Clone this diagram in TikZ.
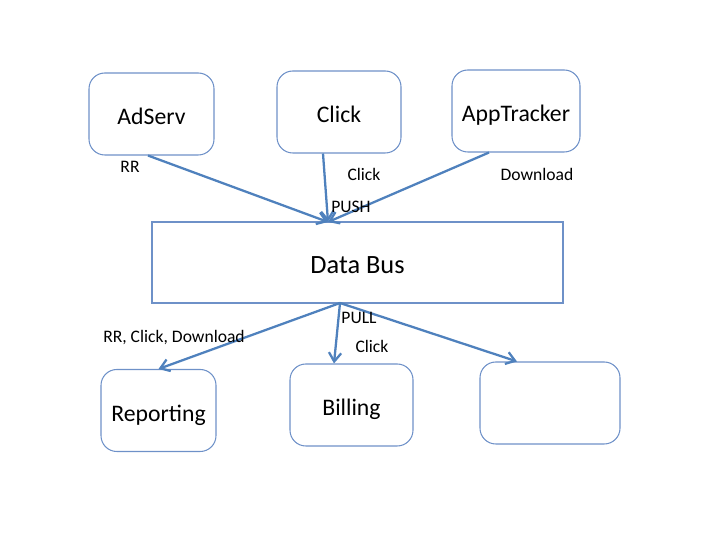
\documentclass[tikz,border=0pt]{standalone}
\usepackage{fontspec}
\setmainfont{Carlito}
\usetikzlibrary{arrows.meta}
\definecolor{boxblue}{RGB}{110,145,200}
\definecolor{arrowblue}{RGB}{79,129,189}
\tikzset{
  svc/.style={draw=boxblue,line width=.6pt,rounded corners=9pt,minimum height=1.64cm,text height=2.6ex,text depth=0pt,font=\fontsize{13.5}{15}\selectfont},
  bus/.style={draw=boxblue,line width=.6pt,minimum width=8.22cm,minimum height=1.62cm,text height=2.7ex,text depth=0pt,font=\fontsize{15}{17}\selectfont},
  flow/.style={draw=arrowblue,line width=1.3pt,-{Straight Barb[length=5pt,width=7pt]}},
  lbl/.style={font=\fontsize{10}{12}\selectfont}
}
\begin{document}
\begin{tikzpicture}
  \useasboundingbox (0,0) rectangle (14.4,10.8);
  % producers
  \node[svc,minimum width=2.5cm]  (AS) at (3.03,8.52) {AdServ};
  \node[svc,minimum width=2.48cm] (CK) at (6.78,8.56) {Click};
  \node[svc,minimum width=2.56cm] (AT) at (10.32,8.58) {AppTracker};
  \node[bus] (DB) at (7.15,5.55) {Data Bus};
  % consumers
  \node[svc,minimum width=2.3cm]  (RP) at (3.17,2.59) {Reporting};
  \node[svc,minimum width=2.46cm] (BL) at (7.03,2.70) {Billing};
  \node[svc,minimum width=2.8cm]  (EX) at (11.0,2.74) {};
  \coordinate (push) at (6.56,6.36);
  \coordinate (pull) at (6.8,4.74);
  \draw[flow] ([xshift=-2pt]AS.south) -- (push);
  \draw[flow] ([xshift=-0.32cm]CK.south) -- (push);
  \draw[flow] ([xshift=-0.54cm]AT.south) -- (push);
  \draw[flow] (pull) -- (RP.north);
  \draw[flow] (pull) -- ([xshift=-0.35cm]BL.north);
  \draw[flow] (pull) -- ([xshift=-0.66cm]EX.north);
  \node[lbl] (rr)   at (2.6,7.46)   {RR};
  \node[lbl] (ckl)  at (7.28,7.32)  {Click};
  \node[lbl] (dl)   at (10.74,7.32) {Download};
  \node[lbl] (psh)  at (7.02,6.66)  {PUSH};
  \node[lbl] (pll)  at (7.18,4.44)  {PULL};
  \node[lbl] (all)  at (3.48,4.04)  {RR, Click, Download};
  \node[lbl] (ckb)  at (7.44,3.88)  {Click};
\end{tikzpicture}
\end{document}
